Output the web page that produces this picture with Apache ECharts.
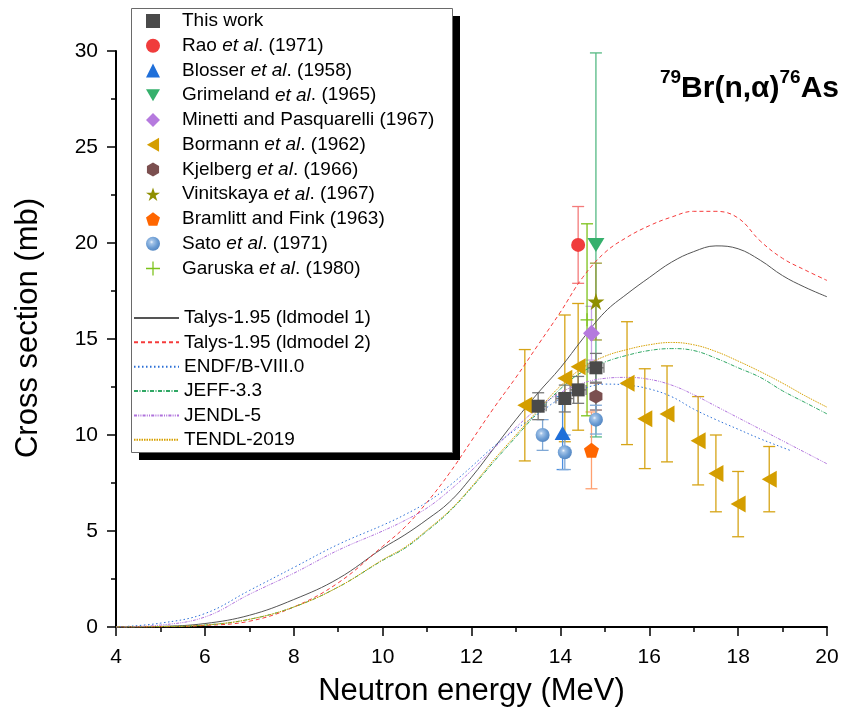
<!DOCTYPE html>
<html>
<head>
<meta charset="utf-8">
<script src="https://cdn.jsdelivr.net/npm/echarts@6/dist/echarts.min.js"></script>
<style>
  html, body { margin: 0; padding: 0; background: #fff; }
  #chart { width: 841px; height: 713px; }
</style>
</head>
<body>
<div id="chart"></div>
<script>
// ---- experimental points (energy MeV, cross section mb, error) ----
const thisWorkE = [13.5, 14.1, 14.4, 14.8];
const thisWorkXS = [11.5, 11.9, 12.35, 13.5];
const thisWorkErr = [0.7, 0.7, 0.7, 0.75];
const thisWorkEErr = [0.18, 0.2, 0.18, 0.18];

const raoE = [14.4], raoXS = [19.9], raoErr = [2.0];
const blosserE = [14.05], blosserXS = [10.1], blosserErr = [1.9];
const grimelandE = [14.8], grimelandXS = [19.9], grimelandErr = [10.0];
const minettiE = [14.7], minettiXS = [15.3], minettiErr = [1.4];
const bormannE = [13.2, 14.1, 14.4, 15.5, 15.9, 16.4, 17.1, 17.5, 18.0, 18.7];
const bormannXS = [11.55, 12.95, 13.55, 12.7, 10.85, 11.1, 9.7, 8.0, 6.4, 7.7];
const bormannErr = [2.9, 3.3, 3.3, 3.2, 2.6, 2.5, 2.3, 2.0, 1.7, 1.7];
const kjelbergE = [14.8], kjelbergXS = [12.0], kjelbergErr = [0.7];
const vinitskayaE = [14.8], vinitskayaXS = [16.95], vinitskayaErr = [2.0];
const bramlittE = [14.7], bramlittXS = [9.2], bramlittErr = [2.0];
const satoE = [13.6, 14.1, 14.8], satoXS = [10.0, 9.1, 10.8], satoErr = [0.8, 0.9, 0.75];
const garuskaE = [14.6], garuskaXS = [16.0], garuskaErr = [5.0];

// ---- evaluated curves ----
const curveE = [4, 5, 6, 7, 8, 9, 10, 10.5, 11, 11.5, 12, 12.5, 13, 13.5, 14, 14.5, 15, 15.5, 16, 16.5, 17, 17.5, 18, 18.5, 19, 19.5, 20];
const talys1 = [0, 0.03, 0.18, 0.61, 1.43, 2.52, 4.1, 4.8, 5.6, 6.5, 7.8, 9.3, 10.8, 12.2, 13.5, 15.0, 16.4, 17.35, 18.2, 19.0, 19.55, 19.85, 19.7, 19.1, 18.3, 17.7, 17.2];
const talys2 = [0, 0.01, 0.08, 0.3, 1.04, 2.3, 4.2, 5.2, 6.5, 8.0, 9.7, 11.4, 13.0, 14.7, 16.4, 18.2, 19.5, 20.3, 20.9, 21.35, 21.65, 21.65, 21.3, 20.1, 19.2, 18.6, 18.05];
const jendl5 = [0, 0.1, 0.52, 1.7, 2.8, 4.0, 5.0, 5.55, 6.2, 7.1, 8.15, 9.3, 10.4, 11.4, 12.2, 12.7, 12.95, 13.0, 12.9, 12.6, 12.1, 11.5, 10.9, 10.3, 9.7, 9.1, 8.5];
const jeff33 = [0, 0.02, 0.1, 0.4, 1.04, 2.08, 3.47, 4.1, 5.0, 6.0, 7.25, 8.6, 9.9, 11.2, 12.4, 13.3, 13.8, 14.15, 14.4, 14.5, 14.4, 14.0, 13.5, 13.0, 12.3, 11.7, 11.1];
const tendl = [0, 0.02, 0.1, 0.4, 1.04, 2.08, 3.5, 4.15, 5.05, 6.05, 7.3, 8.7, 10.0, 11.3, 12.55, 13.5, 14.1, 14.45, 14.7, 14.82, 14.7, 14.35, 13.85, 13.3, 12.7, 12.05, 11.45];
const endfE = [4, 5, 6, 7, 8, 9, 10, 10.5, 11, 11.5, 12, 12.5, 13, 13.5, 14, 14.5, 15, 15.5, 16, 16.5, 17, 17.5, 18, 18.5, 19, 19.2];
const endf = [0, 0.2, 0.7, 1.9, 3.1, 4.3, 5.3, 5.85, 6.5, 7.35, 8.35, 9.4, 10.3, 11.1, 11.9, 12.4, 12.65, 12.6, 12.4, 12.0, 11.35, 10.8, 10.3, 9.8, 9.35, 9.17];

const FONT = 'Liberation Sans, Arial, sans-serif';

const pair = (xs, ys) => xs.map((x, i) => [x, ys[i]]);

function vErrSeries(xs, ys, errs, color) {
    return {
        type: 'custom',
        name: 'err',
        z: 1,
        silent: true,
        encode: { x: 0, y: [1, 2] },
        data: xs.map((x, i) => [x, ys[i] - errs[i], ys[i] + errs[i]]),
        renderItem: function (params, api) {
            const a = api.coord([api.value(0), api.value(1)]);
            const b = api.coord([api.value(0), api.value(2)]);
            const w = 6;
            const st = { stroke: color, lineWidth: 1.3 };
            return {
                type: 'group',
                children: [
                    { type: 'line', shape: { x1: a[0], y1: a[1], x2: b[0], y2: b[1] }, style: st },
                    { type: 'line', shape: { x1: a[0] - w, y1: a[1], x2: a[0] + w, y2: a[1] }, style: st },
                    { type: 'line', shape: { x1: b[0] - w, y1: b[1], x2: b[0] + w, y2: b[1] }, style: st }
                ]
            };
        }
    };
}

function hErrSeries(xs, ys, errs, color) {
    return {
        type: 'custom',
        name: 'err',
        z: 1,
        silent: true,
        encode: { x: [0, 1], y: 2 },
        data: xs.map((x, i) => [x - errs[i], x + errs[i], ys[i]]),
        renderItem: function (params, api) {
            const a = api.coord([api.value(0), api.value(2)]);
            const b = api.coord([api.value(1), api.value(2)]);
            const h = 5;
            const st = { stroke: color, lineWidth: 1.3 };
            return {
                type: 'group',
                children: [
                    { type: 'line', shape: { x1: a[0], y1: a[1], x2: b[0], y2: b[1] }, style: st },
                    { type: 'line', shape: { x1: a[0], y1: a[1] - h, x2: a[0], y2: a[1] + h }, style: st },
                    { type: 'line', shape: { x1: b[0], y1: b[1] - h, x2: b[0], y2: b[1] + h }, style: st }
                ]
            };
        }
    };
}

const STAR = 'path://M5,0L6.18,3.45L9.76,3.45L6.79,5.55L7.94,9.05L5,6.9L2.06,9.05L3.21,5.55L0.24,3.45L3.82,3.45Z';
const HEX = 'path://M5,0L9.33,2.5L9.33,7.5L5,10L0.67,7.5L0.67,2.5Z';
const PENT = 'path://M5,0L10,3.63L8.09,9.51L1.91,9.51L0,3.63Z';
const PLUS = 'path://M4.55,0H5.45V4.55H10V5.45H5.45V10H4.55V5.45H0V4.55H4.55Z';
const TRI_LEFT = 'path://M0,5L8.7,0L8.7,10Z';
const TRI_DOWN = 'path://M0,0L10,0L5,8.7Z';

function pts(name, xs, ys, symbol, size, color, extra) {
    return Object.assign({
        type: 'scatter',
        name: name,
        z: 3,
        symbol: symbol,
        symbolSize: size,
        itemStyle: { color: color, opacity: 1 },
        data: pair(xs, ys)
    }, extra || {});
}

function curve(name, xs, ys, color, lineType) {
    return {
        type: 'line',
        name: name,
        z: 2,
        smooth: 0.4,
        showSymbol: false,
        symbol: 'none',
        lineStyle: { color: color, width: 1, type: lineType },
        itemStyle: { color: color },
        data: pair(xs, ys)
    };
}

const sphere = {
    type: 'radial', x: 0.4, y: 0.38, r: 0.7,
    colorStops: [
        { offset: 0, color: '#f2f7fd' },
        { offset: 0.18, color: '#a4c4e8' },
        { offset: 0.6, color: '#6b9cd3' },
        { offset: 1, color: '#4d80bd' }
    ]
};

const pointNames = ['This work', 'Rao et al. (1971)', 'Blosser et al. (1958)', 'Grimeland et al. (1965)',
    'Minetti and Pasquarelli (1967)', 'Bormann et al. (1962)', 'Kjelberg et al. (1966)',
    'Vinitskaya et al. (1967)', 'Bramlitt and Fink (1963)', 'Sato et al. (1971)', 'Garuska et al. (1980)'];
const curveNames = ['Talys-1.95 (ldmodel 1)', 'Talys-1.95 (ldmodel 2)', 'ENDF/B-VIII.0', 'JEFF-3.3', 'JENDL-5', 'TENDL-2019'];

// legend icons for the rotated triangles
const legendIcons = { 'Grimeland et al. (1965)': TRI_DOWN, 'Bormann et al. (1962)': TRI_LEFT };

function legendText(padLeft) {
    return {
        fontFamily: FONT, fontSize: 19, color: '#000', lineHeight: 20,
        padding: [0, 0, 0, padLeft],
        rich: { i: { fontFamily: FONT, fontSize: 19, fontStyle: 'italic', color: '#000', lineHeight: 20 } }
    };
}

const option = {
    animation: false,
    backgroundColor: '#fff',
    textStyle: { fontFamily: FONT },
    title: {
        right: 2,
        top: 68,
        padding: 0,
        text: '{s|79}{b|Br(n,α)}{s|76}{b|As}',
        textStyle: {
            rich: {
                s: { fontFamily: FONT, fontSize: 19, fontWeight: 'bold', color: '#000', verticalAlign: 'top', lineHeight: 20 },
                b: { fontFamily: FONT, fontSize: 30, fontWeight: 'bold', color: '#000', verticalAlign: 'bottom', lineHeight: 36 }
            }
        }
    },
    graphic: [
        { type: 'rect', z: 3, left: 139, top: 16, shape: { width: 321, height: 444 }, style: { fill: '#000' } },
        { type: 'rect', z: 3, left: 131, top: 8, shape: { width: 321, height: 444 }, style: { fill: '#fff', stroke: '#6a6a6a', lineWidth: 1 } }
    ],
    legend: [
        {
            data: pointNames.map(n => legendIcons[n] ? { name: n, icon: legendIcons[n] } : n),
            orient: 'vertical',
            left: 146, top: 11, padding: 0,
            itemWidth: 14, itemHeight: 14, itemGap: 4.75,
            selectedMode: false,
            formatter: n => n.replace('et al', '{i|et al}'),
            textStyle: legendText(17),
            z: 5
        },
        {
            data: curveNames,
            orient: 'vertical',
            left: 133, top: 308, padding: 0,
            itemWidth: 45, itemHeight: 14, itemGap: 4.35,
            selectedMode: false,
            itemStyle: { opacity: 0 },
            textStyle: legendText(0),
            z: 5
        }
    ],
    grid: { left: 116, right: 14, top: 51, bottom: 86, containLabel: false, outerBoundsMode: 'none' },
    xAxis: {
        type: 'value', min: 4, max: 20, interval: 2,
        name: 'Neutron energy (MeV)', nameLocation: 'middle', nameGap: 49,
        nameTextStyle: { fontFamily: FONT, fontSize: 31, color: '#000' },
        axisLine: { lineStyle: { color: '#000', width: 2 } },
        axisTick: { length: 9, lineStyle: { color: '#000', width: 1.5 } },
        minorTick: { show: true, splitNumber: 2, length: 5, lineStyle: { color: '#000', width: 1.5 } },
        axisLabel: { fontFamily: FONT, fontSize: 21, color: '#000', margin: 20 },
        splitLine: { show: false }
    },
    yAxis: {
        type: 'value', min: 0, max: 30, interval: 5,
        name: 'Cross section (mb)', nameLocation: 'middle', nameGap: 72,
        nameTextStyle: { fontFamily: FONT, fontSize: 31, color: '#000', padding: [0, 0, 0, 22] },
        axisLine: { lineStyle: { color: '#000', width: 2 } },
        axisTick: { length: 9, lineStyle: { color: '#000', width: 1.5 } },
        minorTick: { show: true, splitNumber: 2, length: 5, lineStyle: { color: '#000', width: 1.5 } },
        axisLabel: { fontFamily: FONT, fontSize: 21, color: '#000', margin: 18 },
        splitLine: { show: false }
    },
    series: [
        curve(curveNames[0], curveE, talys1, '#555555', 'solid'),
        curve(curveNames[1], curveE, talys2, '#f53b3b', [4, 3]),
        curve(curveNames[2], endfE, endf, '#2b6fd6', [1.5, 2.5]),
        curve(curveNames[3], curveE, jeff33, '#2fa764', [4, 1.5, 1, 1.5]),
        curve(curveNames[4], curveE, jendl5, '#b072dc', [3, 1.2, 1, 1.2, 1, 1.2]),
        curve(curveNames[5], curveE, tendl, '#d6a000', [1.5, 1]),

        vErrSeries(bormannE, bormannXS, bormannErr, '#d6a416'),
        vErrSeries(raoE, raoXS, raoErr, '#f47a7a'),
        vErrSeries(blosserE, blosserXS, blosserErr, '#4a8ee0'),
        vErrSeries(grimelandE, grimelandXS, grimelandErr, '#55b983'),
        vErrSeries(minettiE, minettiXS, minettiErr, '#c9a3ea'),
        vErrSeries(kjelbergE, kjelbergXS, kjelbergErr, '#86686a'),
        vErrSeries(vinitskayaE, vinitskayaXS, vinitskayaErr, '#9c9a36'),
        vErrSeries(bramlittE, bramlittXS, bramlittErr, '#ffa070'),
        vErrSeries(satoE, satoXS, satoErr, '#7fa8d6'),
        vErrSeries(garuskaE, garuskaXS, garuskaErr, '#7cc21a'),
        vErrSeries(thisWorkE, thisWorkXS, thisWorkErr, '#777777'),
        hErrSeries(thisWorkE, thisWorkXS, thisWorkEErr, '#777777'),

        pts(pointNames[5], bormannE, bormannXS, 'triangle', [17, 15], '#d49e00', { symbolRotate: 90 }),
        pts(pointNames[1], raoE, raoXS, 'circle', 14, '#f03c3c'),
        pts(pointNames[2], blosserE, blosserXS, 'triangle', [16, 14], '#1f6fd9'),
        pts(pointNames[3], grimelandE, grimelandXS, 'triangle', [17, 14], '#35b06c', { symbolRotate: 180 }),
        pts(pointNames[4], minettiE, minettiXS, 'diamond', [17, 17], '#b57ade'),
        pts(pointNames[6], kjelbergE, kjelbergXS, HEX, [13, 14], '#7b4f4f'),
        pts(pointNames[7], vinitskayaE, vinitskayaXS, STAR, 17, '#8f8f00'),
        pts(pointNames[8], bramlittE, bramlittXS, PENT, 15, '#ff6600'),
        pts(pointNames[9], satoE, satoXS, 'circle', 14, sphere),
        pts(pointNames[10], garuskaE, garuskaXS, PLUS, 13, '#7cc21a'),
        pts(pointNames[0], thisWorkE, thisWorkXS, 'rect', 13, '#4a4a4a')
    ]
};

const chart = echarts.init(document.getElementById('chart'), null, { renderer: 'canvas' });
chart.setOption(option);
</script>
</body>
</html>
